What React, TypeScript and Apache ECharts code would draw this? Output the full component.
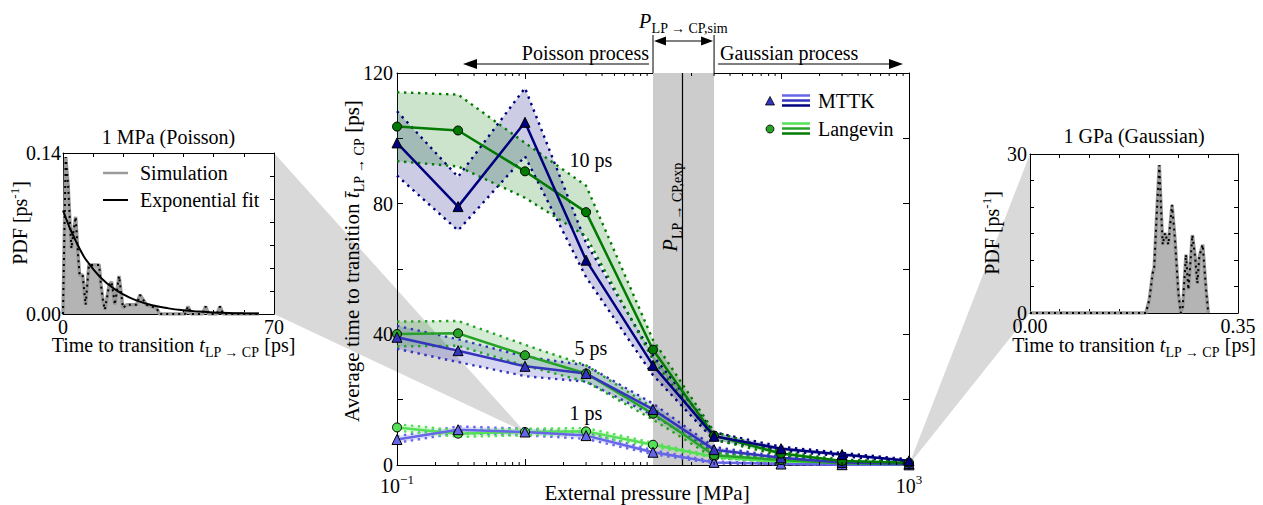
import React, { useEffect, useRef } from 'react';
import * as echarts from 'echarts';

const FONT = "'Liberation Serif', serif";

// ---------- main panel data ----------
const PRESSURE = [0.1, 0.3, 1, 3, 10, 30, 100, 300, 1000];

const MTTK_10 = [98.6, 79.1, 104.9, 62.7, 30.5, 8.8, 5.0, 3.2, 1.3];
const MTTK_10_HI = [108.3, 88.2, 115.4, 68.0, 33.5, 10.0, 5.6, 3.7, 1.7];
const MTTK_10_LO = [88.6, 71.8, 94.5, 57.5, 27.5, 7.6, 4.4, 2.7, 0.9];
const LANG_10 = [103.6, 102.4, 89.9, 77.4, 35.3, 9.0, 3.5, 1.2, 0.7];
const LANG_10_HI = [114.1, 113.4, 98.6, 85.5, 38.3, 10.2, 4.1, 1.6, 1.0];
const LANG_10_LO = [93.0, 91.4, 81.8, 70.0, 32.3, 7.8, 2.9, 0.8, 0.4];

const MTTK_5 = [39.1, 35.0, 30.2, 28.0, 17.0, 4.7, 2.2, 0.8, 0.4];
const MTTK_5_HI = [42.6, 38.5, 33.2, 30.5, 18.8, 5.5, 2.6, 1.1, 0.6];
const MTTK_5_LO = [35.6, 31.5, 27.2, 25.5, 15.2, 3.9, 1.8, 0.5, 0.2];
const LANG_5 = [40.1, 40.3, 33.6, 28.0, 15.7, 3.0, 1.5, 0.5, 0.2];
const LANG_5_HI = [43.9, 44.1, 36.8, 30.5, 17.5, 3.8, 1.9, 0.8, 0.4];
const LANG_5_LO = [36.3, 36.5, 30.4, 25.5, 13.9, 2.2, 1.1, 0.2, 0.0];

const MTTK_1 = [7.8, 10.8, 10.1, 9.0, 3.9, 0.8, 0.3, 0.1, 0.05];
const MTTK_1_HI = [8.8, 11.8, 11.1, 10.0, 4.5, 1.1, 0.4, 0.2, 0.1];
const MTTK_1_LO = [6.8, 9.8, 9.1, 8.0, 3.3, 0.5, 0.2, 0.0, 0.0];
const LANG_1 = [11.5, 9.6, 10.1, 10.3, 6.2, 2.5, 0.9, 0.4, 0.2];
const LANG_1_HI = [12.5, 10.6, 11.1, 11.3, 6.8, 2.8, 1.0, 0.5, 0.3];
const LANG_1_LO = [10.5, 8.6, 9.1, 9.3, 5.6, 2.2, 0.8, 0.3, 0.1];

const P_SIM_LO = 10;
const P_SIM_HI = 30;
const P_EXP = 17;

const MINOR_TICKS = [
  0.2, 0.3, 0.4, 0.5, 0.6, 0.7, 0.8, 0.9,
  2, 3, 4, 5, 6, 7, 8, 9,
  20, 30, 40, 50, 60, 70, 80, 90,
  200, 300, 400, 500, 600, 700, 800, 900,
];

// ---------- left inset (1 MPa) ----------
const SIM1_T = [0, 0.9, 1.7, 2.3, 2.8, 3.5, 4.2, 5.0, 5.5, 6.5, 7.5, 8.6, 12.0, 12.6, 13.3, 13.9, 15.3, 16.1, 16.6, 17.2, 18.6, 19.2, 19.9, 21.1, 24.4, 25.5, 27.7, 31.0, 32.1, 40.5, 41.5, 42.5, 46.3, 47.3, 48.3, 51.1, 52.1, 53.1, 65];
const SIM1_V = [0, 0.1365, 0.112, 0.08, 0.057, 0.072, 0.0845, 0.051, 0.034, 0.034, 0.008, 0.0427, 0.0427, 0.025, 0.011, 0.0037, 0.025, 0.028, 0.0196, 0.008, 0.033, 0.02, 0.0052, 0.008, 0.008, 0.0167, 0.008, 0.0052, 0, 0, 0.0066, 0, 0, 0.0066, 0, 0, 0.0066, 0, 0];
const FIT1_T = [0, 5, 10, 15, 20, 25, 30, 35, 40, 45, 50, 55, 60, 65];
const FIT1_V = [0.09, 0.0593, 0.0391, 0.0258, 0.017, 0.0112, 0.0074, 0.0049, 0.0032, 0.0021, 0.0014, 0.0009, 0.0006, 0.0004];

// ---------- right inset (1 GPa) ----------
const SIM2_T = [0, 0.195, 0.2008, 0.2065, 0.209, 0.213, 0.2176, 0.2211, 0.2233, 0.2272, 0.2328, 0.239, 0.244, 0.2496, 0.2536, 0.257, 0.2625, 0.2665, 0.2693, 0.2732, 0.2777, 0.2816, 0.285, 0.2906, 0.2962, 0.3];
const SIM2_V = [0, 0, 2.5, 7.5, 8.5, 18, 27.9, 18.2, 12.9, 15.1, 12.9, 20.4, 13.8, 3.8, 0, 1.2, 11.0, 4.4, 8.5, 14.7, 10.7, 5.6, 10.7, 12.9, 4.4, 0];

// ---------- colours ----------
const C_M1 = '#6666e8';
const C_M5 = '#3434bc';
const C_M10 = '#00007f';
const C_L1 = '#55e055';
const C_L5 = '#26a226';
const C_L10 = '#007a00';

const zip = (a: number[], b: number[]) => a.map((v, i) => [v, b[i]]);

const rgba = (hex: string, a: number) => {
  const r = parseInt(hex.slice(1, 3), 16);
  const g = parseInt(hex.slice(3, 5), 16);
  const b = parseInt(hex.slice(5, 7), 16);
  return `rgba(${r},${g},${b},${a})`;
};

const makeRich = (size: number): any => ({
  n: { fontSize: size, fontFamily: FONT, color: '#000', fill: '#000' },
  it: { fontSize: size, fontFamily: FONT, fontStyle: 'italic', color: '#000', fill: '#000' },
  sub: { fontSize: 14, fontFamily: FONT, color: '#000', fill: '#000', padding: [14, 0, 0, 0] },
  sup: { fontSize: 13, fontFamily: FONT, color: '#000', fill: '#000', padding: [0, 0, 12, 0] },
});
const RICH = makeRich(20);

const SUB_LPCP = 'LP → CP';

const near = (a: number, b: number) => Math.abs(a - b) < 1e-9 * Math.max(1, Math.abs(b));

function bandSeries(lo: number[], hi: number[], color: string) {
  const dotted = { color, width: 2.4, type: [2.4, 4.6] as any, cap: 'butt' };
  return [
    {
      type: 'custom', xAxisIndex: 0, yAxisIndex: 0, z: 2, silent: true,
      data: [[PRESSURE[0], lo[0]]],
      renderItem: (params: any, api: any) => {
        const up = PRESSURE.map((p, i) => api.coord([p, hi[i]]));
        const dn = PRESSURE.map((p, i) => api.coord([p, lo[i]])).reverse();
        return { type: 'polygon', shape: { points: up.concat(dn) }, style: { fill: rgba(color, 0.2) } };
      },
    },
    {
      type: 'line', xAxisIndex: 0, yAxisIndex: 0, data: zip(PRESSURE, lo), symbol: 'none',
      lineStyle: dotted, z: 3, silent: true,
    },
    {
      type: 'line', xAxisIndex: 0, yAxisIndex: 0, data: zip(PRESSURE, hi), symbol: 'none',
      lineStyle: dotted, z: 3, silent: true,
    },
  ];
}

function meanSeries(vals: number[], color: string, symbol: string) {
  return {
    type: 'line', xAxisIndex: 0, yAxisIndex: 0, data: zip(PRESSURE, vals),
    symbol, symbolSize: symbol === 'triangle' ? 10 : 9,
    itemStyle: { color, borderColor: '#000', borderWidth: 1 },
    lineStyle: { color, width: 2.5 }, z: 5, silent: true,
  };
}

const axisCommon = {
  axisLine: { show: true, onZero: false, lineStyle: { color: '#000', width: 1 } },
  axisTick: { show: true, inside: true, length: 6, lineStyle: { color: '#000' } },
  splitLine: { show: false },
  axisLabel: { color: '#000', fontFamily: FONT, fontSize: 20, rich: RICH },
};

function buildOption(): any {
  return {
    animation: false,
    backgroundColor: '#fff',
    textStyle: { fontFamily: FONT },
    grid: [
      { left: 397, top: 73, width: 512, height: 392 },
      { left: 63, top: 153, width: 211, height: 161 },
      { left: 1030, top: 154, width: 208, height: 159 },
    ],
    xAxis: [
      {
        ...axisCommon, gridIndex: 0, type: 'log', logBase: 10, min: 0.1, max: 1000, position: 'bottom',
        minorTick: { show: false },
        axisLabel: {
          ...axisCommon.axisLabel, margin: 8, showMinLabel: true, showMaxLabel: true,
          formatter: (v: number) => {
            const e = Math.round(Math.log10(v) * 1000) / 1000;
            if (e === -1) return '{n|10}{sup|−1}';
            if (e === 3) return '{n|10}{sup|3}';
            return '';
          },
        },
      },
      {
        ...axisCommon, gridIndex: 0, type: 'log', logBase: 10, min: 0.1, max: 1000, position: 'top',
        axisLabel: { show: false },
      },
      {
        ...axisCommon, gridIndex: 1, type: 'value', min: 0, max: 70, interval: 10, position: 'bottom',
        axisTick: { ...axisCommon.axisTick, length: 4 },
        axisLabel: {
          ...axisCommon.axisLabel, margin: 3,
          formatter: (v: number) => (near(v, 0) || near(v, 70) ? String(v) : ''),
        },
      },
      {
        ...axisCommon, gridIndex: 1, type: 'value', min: 0, max: 70, interval: 10, position: 'top',
        axisTick: { ...axisCommon.axisTick, length: 4 }, axisLabel: { show: false },
      },
      {
        ...axisCommon, gridIndex: 2, type: 'value', min: 0, max: 0.35, interval: 0.05, position: 'bottom',
        axisTick: { ...axisCommon.axisTick, length: 4 },
        axisLabel: {
          ...axisCommon.axisLabel, margin: 3,
          formatter: (v: number) => (near(v, 0) ? '0.00' : near(v, 0.35) ? '0.35' : ''),
        },
      },
      {
        ...axisCommon, gridIndex: 2, type: 'value', min: 0, max: 0.35, interval: 0.05, position: 'top',
        axisTick: { ...axisCommon.axisTick, length: 4 }, axisLabel: { show: false },
      },
    ],
    yAxis: [
      {
        ...axisCommon, gridIndex: 0, type: 'value', min: 0, max: 120, interval: 20, position: 'left',
        axisLabel: {
          ...axisCommon.axisLabel, margin: 4,
          formatter: (v: number) => (Math.round(v) % 40 === 0 ? String(Math.round(v)) : ''),
        },
      },
      {
        ...axisCommon, gridIndex: 0, type: 'value', min: 0, max: 120, interval: 20, position: 'right',
        axisLabel: { show: false },
      },
      {
        ...axisCommon, gridIndex: 1, type: 'value', min: 0, max: 0.14, interval: 0.02, position: 'left',
        axisTick: { ...axisCommon.axisTick, length: 4 },
        axisLabel: {
          ...axisCommon.axisLabel, margin: 2,
          formatter: (v: number) => (near(v, 0) ? '0.00' : near(v, 0.14) ? '0.14' : ''),
        },
      },
      {
        ...axisCommon, gridIndex: 1, type: 'value', min: 0, max: 0.14, interval: 0.02, position: 'right',
        axisTick: { ...axisCommon.axisTick, length: 4 }, axisLabel: { show: false },
      },
      {
        ...axisCommon, gridIndex: 2, type: 'value', min: 0, max: 30, interval: 5, position: 'left',
        axisTick: { ...axisCommon.axisTick, length: 4 },
        axisLabel: {
          ...axisCommon.axisLabel, margin: 3,
          formatter: (v: number) => (near(v, 0) || near(v, 30) ? String(v) : ''),
        },
      },
      {
        ...axisCommon, gridIndex: 2, type: 'value', min: 0, max: 30, interval: 5, position: 'right',
        axisTick: { ...axisCommon.axisTick, length: 4 }, axisLabel: { show: false },
      },
    ],
    series: [
      // grey transition band + experimental pressure line
      {
        type: 'custom', xAxisIndex: 0, yAxisIndex: 0, z: 1, silent: true,
        data: [[P_SIM_LO, P_SIM_HI, P_EXP]],
        renderItem: (params: any, api: any) => {
          const a = api.coord([api.value(0), 120]);
          const b = api.coord([api.value(1), 0]);
          const c = api.coord([api.value(2), 120]);
          const d = api.coord([api.value(2), 0]);
          return {
            type: 'group',
            children: [
              { type: 'rect', shape: { x: a[0], y: a[1], width: b[0] - a[0], height: b[1] - a[1] }, style: { fill: '#cccccc' } },
              { type: 'line', shape: { x1: c[0], y1: c[1], x2: d[0], y2: d[1] }, style: { stroke: '#000', lineWidth: 1.2 } },
            ],
          };
        },
      },
      // minor log ticks (bottom and top)
      {
        type: 'custom', xAxisIndex: 0, yAxisIndex: 0, z: 6, silent: true, clip: false,
        data: MINOR_TICKS.map((v) => [v, 0]),
        renderItem: (params: any, api: any) => {
          const v = api.value(0);
          const b = api.coord([v, 0]);
          const t = api.coord([v, 120]);
          return {
            type: 'group',
            children: [
              { type: 'line', shape: { x1: b[0], y1: b[1], x2: b[0], y2: b[1] - 3 }, style: { stroke: '#000', lineWidth: 1 } },
              { type: 'line', shape: { x1: t[0], y1: t[1], x2: t[0], y2: t[1] + 3 }, style: { stroke: '#000', lineWidth: 1 } },
            ],
          };
        },
      },
      ...bandSeries(MTTK_1_LO, MTTK_1_HI, C_M1),
      ...bandSeries(LANG_1_LO, LANG_1_HI, C_L1),
      ...bandSeries(MTTK_5_LO, MTTK_5_HI, C_M5),
      ...bandSeries(LANG_5_LO, LANG_5_HI, C_L5),
      ...bandSeries(MTTK_10_LO, MTTK_10_HI, C_M10),
      ...bandSeries(LANG_10_LO, LANG_10_HI, C_L10),
      meanSeries(LANG_1, C_L1, 'circle'),
      meanSeries(MTTK_1, C_M1, 'triangle'),
      meanSeries(LANG_5, C_L5, 'circle'),
      meanSeries(MTTK_5, C_M5, 'triangle'),
      meanSeries(LANG_10, C_L10, 'circle'),
      meanSeries(MTTK_10, C_M10, 'triangle'),
      // left inset
      {
        type: 'line', xAxisIndex: 2, yAxisIndex: 2, data: zip(SIM1_T, SIM1_V), symbol: 'none',
        lineStyle: { color: '#9a9a9a', width: 3.5 }, areaStyle: { color: '#b4b4b4', opacity: 1 }, z: 2, silent: true,
      },
      {
        type: 'line', xAxisIndex: 2, yAxisIndex: 2, data: zip(SIM1_T, SIM1_V), symbol: 'none',
        lineStyle: { color: '#000', width: 2, type: [2, 4] }, z: 3, silent: true,
      },
      {
        type: 'line', xAxisIndex: 2, yAxisIndex: 2, data: zip(FIT1_T, FIT1_V), symbol: 'none', smooth: true,
        lineStyle: { color: '#000', width: 2 }, z: 4, silent: true,
      },
      // right inset
      {
        type: 'line', xAxisIndex: 4, yAxisIndex: 4, data: zip(SIM2_T, SIM2_V), symbol: 'none',
        lineStyle: { color: '#9a9a9a', width: 3.5 }, areaStyle: { color: '#b4b4b4', opacity: 1 }, z: 2, silent: true,
      },
      {
        type: 'line', xAxisIndex: 4, yAxisIndex: 4, data: zip(SIM2_T, SIM2_V), symbol: 'none',
        lineStyle: { color: '#000', width: 2, type: [2, 4] }, z: 3, silent: true,
      },
    ],
  };
}

function txt(text: string, x: number, y: number, opts: any = {}) {
  const size = opts.size || 20;
  return {
    type: 'text', x, y, z: 100, rotation: opts.rotation || 0, silent: true,
    style: {
      text, rich: makeRich(size), fontSize: size, fontFamily: FONT, fill: '#000',
      align: opts.align || 'center', verticalAlign: 'middle',
    },
  };
}

function hline(x1: number, y1: number, x2: number, y2: number, stroke: string, w: number, z = 100) {
  return { type: 'line', z, silent: true, shape: { x1, y1, x2, y2 }, style: { stroke, lineWidth: w } };
}

function tri(points: number[][], fill = '#000') {
  return { type: 'polygon', z: 100, silent: true, shape: { points }, style: { fill } };
}

export default function App() {
  const ref = useRef<HTMLDivElement>(null);
  useEffect(() => {
    document.body.style.margin = '0';
    const chart = echarts.init(ref.current!, null, { renderer: 'svg' });
    chart.setOption(buildOption());

    const main = (x: number, y: number) => chart.convertToPixel({ xAxisIndex: 0, yAxisIndex: 0 } as any, [x, y]) as number[];
    const inL = (x: number, y: number) => chart.convertToPixel({ xAxisIndex: 2, yAxisIndex: 2 } as any, [x, y]) as number[];
    const inR = (x: number, y: number) => chart.convertToPixel({ xAxisIndex: 4, yAxisIndex: 4 } as any, [x, y]) as number[];

    const lTop = inL(70, 0.14);
    const lBot = inL(70, 0);
    const lApex = main(PRESSURE[2], MTTK_1[2]);
    const rTop = inR(0, 30);
    const rBot = inR(0, 0);
    const rApex = main(PRESSURE[8], MTTK_1[8]);
    const x10 = main(P_SIM_LO, 120)[0];
    const x30 = main(P_SIM_HI, 120)[0];
    const topY = main(P_SIM_LO, 120)[1];
    const xExp = main(P_EXP, 0)[0];
    const xMin = main(0.1, 0)[0];
    const xMax = main(1000, 0)[0];
    const midMain = (xMin + xMax) / 2;
    const lMid = (inL(0, 0)[0] + inL(70, 0)[0]) / 2;
    const rMid = (inR(0, 0)[0] + inR(0.35, 0)[0]) / 2;

    const arrowY = 64;
    const dblY = 41;

    const graphic: any[] = [
      // zoom wedges
      { type: 'polygon', z: -10, silent: true, shape: { points: [lTop, lBot, lApex] }, style: { fill: '#d9d9d9' } },
      { type: 'polygon', z: -10, silent: true, shape: { points: [rTop, rBot, rApex] }, style: { fill: '#d9d9d9' } },
      // top annotations
      hline(x10, 35, x10, topY, '#000', 1),
      hline(x30, 35, x30, topY, '#000', 1),
      hline(x10 + 8, dblY, x30 - 8, dblY, '#000', 1.2),
      tri([[x10 + 1, dblY], [x10 + 13, dblY - 4.5], [x10 + 13, dblY + 4.5]]),
      tri([[x30 - 1, dblY], [x30 - 13, dblY - 4.5], [x30 - 13, dblY + 4.5]]),
      txt('{it|P}{sub|LP → CP,sim}', (x10 + x30) / 2, 21),
      txt('Poisson process', x10 - 4, 53, { align: 'right' }),
      hline(x10 - 4, arrowY, xMin + 78, arrowY, '#000', 1.2),
      tri([[xMin + 66, arrowY], [xMin + 80, arrowY - 5], [xMin + 80, arrowY + 5]]),
      txt('Gaussian process', x30 + 6, 53, { align: 'left' }),
      hline(x30 + 4, arrowY, xMax - 12, arrowY, '#000', 1.2),
      tri([[xMax - 6, arrowY], [xMax - 20, arrowY - 5], [xMax - 20, arrowY + 5]]),
      // experimental pressure label
      txt('{it|P}{sub|LP → CP,exp}', xExp - 12, 207, { rotation: Math.PI / 2 }),
      // series labels
      txt('10 ps', 591, 160),
      txt('5 ps', 591, 348),
      txt('1 ps', 586, 413),
      // legend
      tri([[765.5, 105], [774.5, 105], [770, 96.5]], C_M5),
      { type: 'polygon', z: 101, silent: true, shape: { points: [[765.5, 105], [774.5, 105], [770, 96.5]] }, style: { fill: 'none', stroke: '#000', lineWidth: 0.8 } },
      hline(782, 95.5, 810, 95.5, C_M1, 2.5),
      hline(782, 100.5, 810, 100.5, C_M5, 2.5),
      hline(782, 105.5, 810, 105.5, C_M10, 2.5),
      txt('MTTK', 818, 101, { align: 'left' }),
      { type: 'circle', z: 100, silent: true, shape: { cx: 770, cy: 129, r: 4 }, style: { fill: C_L5, stroke: '#000', lineWidth: 0.8 } },
      hline(782, 123.5, 810, 123.5, C_L1, 2.5),
      hline(782, 128.5, 810, 128.5, C_L5, 2.5),
      hline(782, 133.5, 810, 133.5, C_L10, 2.5),
      txt('Langevin', 818, 129, { align: 'left' }),
      // main axis titles
      txt(`{n|Average time to transition }{it|t̄}{sub|${SUB_LPCP}}{n| [ps]}`, 352, 261, { rotation: Math.PI / 2, size: 21 }),
      txt('External pressure [MPa]', midMain - 6, 493, { size: 21 }),
      // left inset texts
      txt('1 MPa (Poisson)', lMid, 137),
      hline(103, 173, 128, 173, '#9a9a9a', 2.5),
      txt('Simulation', 140, 173, { align: 'left' }),
      hline(103, 200, 128, 200, '#000', 2),
      txt('Exponential fit', 140, 200, { align: 'left' }),
      txt('{n|PDF [ps}{sup|-1}{n|]}', 20, 223, { rotation: Math.PI / 2 }),
      txt(`{n|Time to transition }{it|t}{sub|${SUB_LPCP}}{n| [ps]}`, lMid + 5, 345),
      // right inset texts
      txt('1 GPa (Gaussian)', rMid, 136),
      txt('{n|PDF [ps}{sup|-1}{n|]}', 992, 233, { rotation: Math.PI / 2 }),
      txt(`{n|Time to transition }{it|t}{sub|${SUB_LPCP}}{n| [ps]}`, rMid, 345),
    ];
    chart.setOption({ graphic });

    return () => chart.dispose();
  }, []);
  return (
    <div
      ref={ref}
      style={{ position: 'absolute', left: 0, top: 0, width: 1263, height: 505, background: '#fff' }}
    />
  );
}
